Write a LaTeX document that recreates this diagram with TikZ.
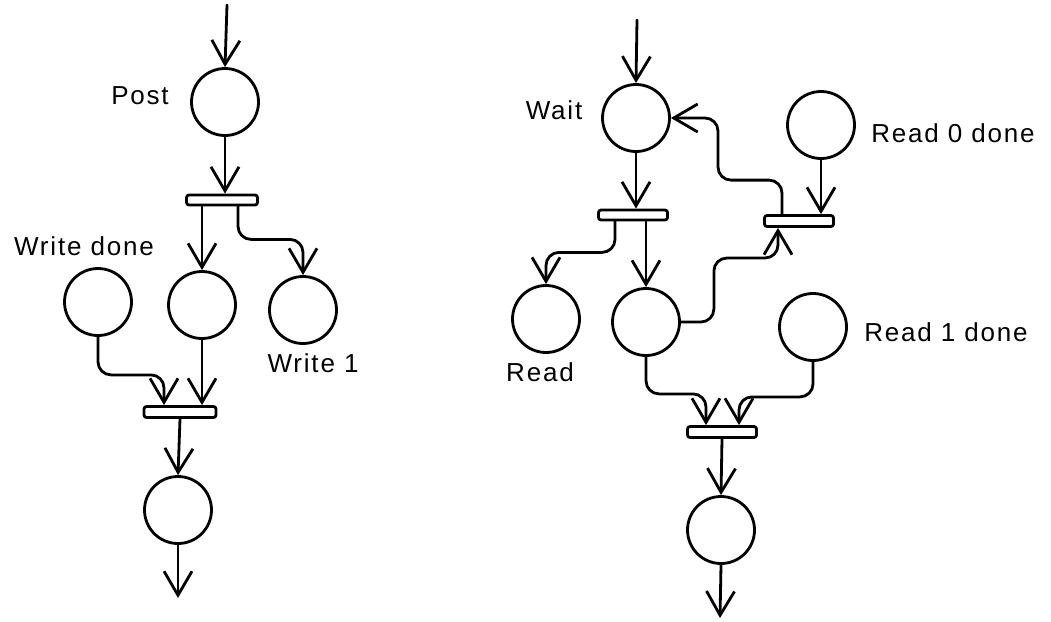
\documentclass[tikz,border=0pt]{standalone}
\usepackage{fontspec}
\setmainfont{Liberation Sans}
\newfontfamily\lblfont[LetterSpace=7]{Liberation Sans}
\usetikzlibrary{arrows.meta}
\begin{document}
\begin{tikzpicture}[x=1pt,y=-1pt,
  line width=2.8pt, line cap=round, line join=round,
  place/.style={circle, draw, fill=white, inner sep=0pt, minimum size=67pt},
  trans/.style={rectangle, draw, fill=white, inner sep=0pt, rounded corners=2.5pt, minimum width=69pt, minimum height=10pt},
  arc/.style={-{Straight Barb[length=24pt 0,width=28pt 0]}, rounded corners=13pt},
  lbl/.style={font=\lblfont\fontsize{26}{29}\selectfont, inner sep=0pt}
]
\useasboundingbox (0,0) rectangle (1051,621);

% ---------- left net ----------
\node[place] (post) at (225,102) {};
\node[lbl] (postl) at (140,96) {Post};
\node[trans, minimum width=71pt] (t1) at (222,200) {};
\node[place] (m) at (202,305) {};
\node[place] (wr1) at (303,310) {};
\node[lbl] (wr1l) at (313,363) {Write 1};
\node[place] (wd) at (98,302) {};
\node[lbl] (wdl) at (84,246) {Write done};
\node[trans, minimum width=72pt, minimum height=11pt] (t2) at (180,412) {};
\node[place] (pb) at (178,510) {};
\coordinate (lin) at (227,5);
\coordinate (lout) at (178,598);

\draw[arc] (lin) -- (post.north);
\draw[arc] (post.south) -- (post.south |- t1.north);
\draw[arc] (m.north |- t1.south) -- (m.north);
\draw[arc] ([xshift=16pt]t1.south) -- ++(0,33) -| (wr1.north);
\draw[arc] (wd.south) -- ++(0,38) -| ([xshift=-16pt]t2.north);
\draw[arc] (m.south) -- (m.south |- t2.north);
\draw[arc] (t2.south) -- (pb.north);
\draw[arc] (pb.south) -- (lout);

% ---------- right net ----------
\node[place] (wait) at (636,118) {};
\node[lbl] (waitl) at (554,110) {Wait};
\node[place] (r0) at (821,125) {};
\node[lbl] (r0l) at (953,133) {Read 0 done};
\node[trans] (t3) at (633,215) {};
\node[trans, minimum height=11pt] (t4) at (799,221) {};
\node[place] (read) at (546,319) {};
\node[lbl] (readl) at (540,372) {Read};
\node[place] (r2) at (646,322) {};
\node[place] (r1) at (813,327) {};
\node[lbl] (r1l) at (946,332) {Read 1 done};
\node[trans, minimum height=11pt] (t5) at (722,432) {};
\node[place] (rb) at (721,530) {};
\coordinate (rin) at (637,20);
\coordinate (rout) at (720,618);

\draw[arc] (rin) -- (wait.north);
\draw[arc] (wait.south) -- (wait.south |- t3.north);
\draw[arc] ([xshift=-18pt]t3.south) -- ++(0,31) -| (read.north);
\draw[arc] (r2.north |- t3.south) -- (r2.north);
\draw[arc] (r2.east) -- ++(33,0) -- ++(0,-64) -| ([xshift=-21pt]t4.south);
\draw[arc] ([xshift=-17pt]t4.north) -- ++(0,-34) -- ++(-64,0) |- (wait.east);
\draw[arc] (r0.south) -- (r0.south |- t4.north);
\draw[arc] (r2.south) -- ++(0,37) -| ([xshift=-16pt]t5.north);
\draw[arc] (r1.south) -- ++(0,35) -| ([xshift=17pt]t5.north);
\draw[arc] (t5.south) -- (rb.north);
\draw[arc] (rb.south) -- (rout);
\end{tikzpicture}
\end{document}
